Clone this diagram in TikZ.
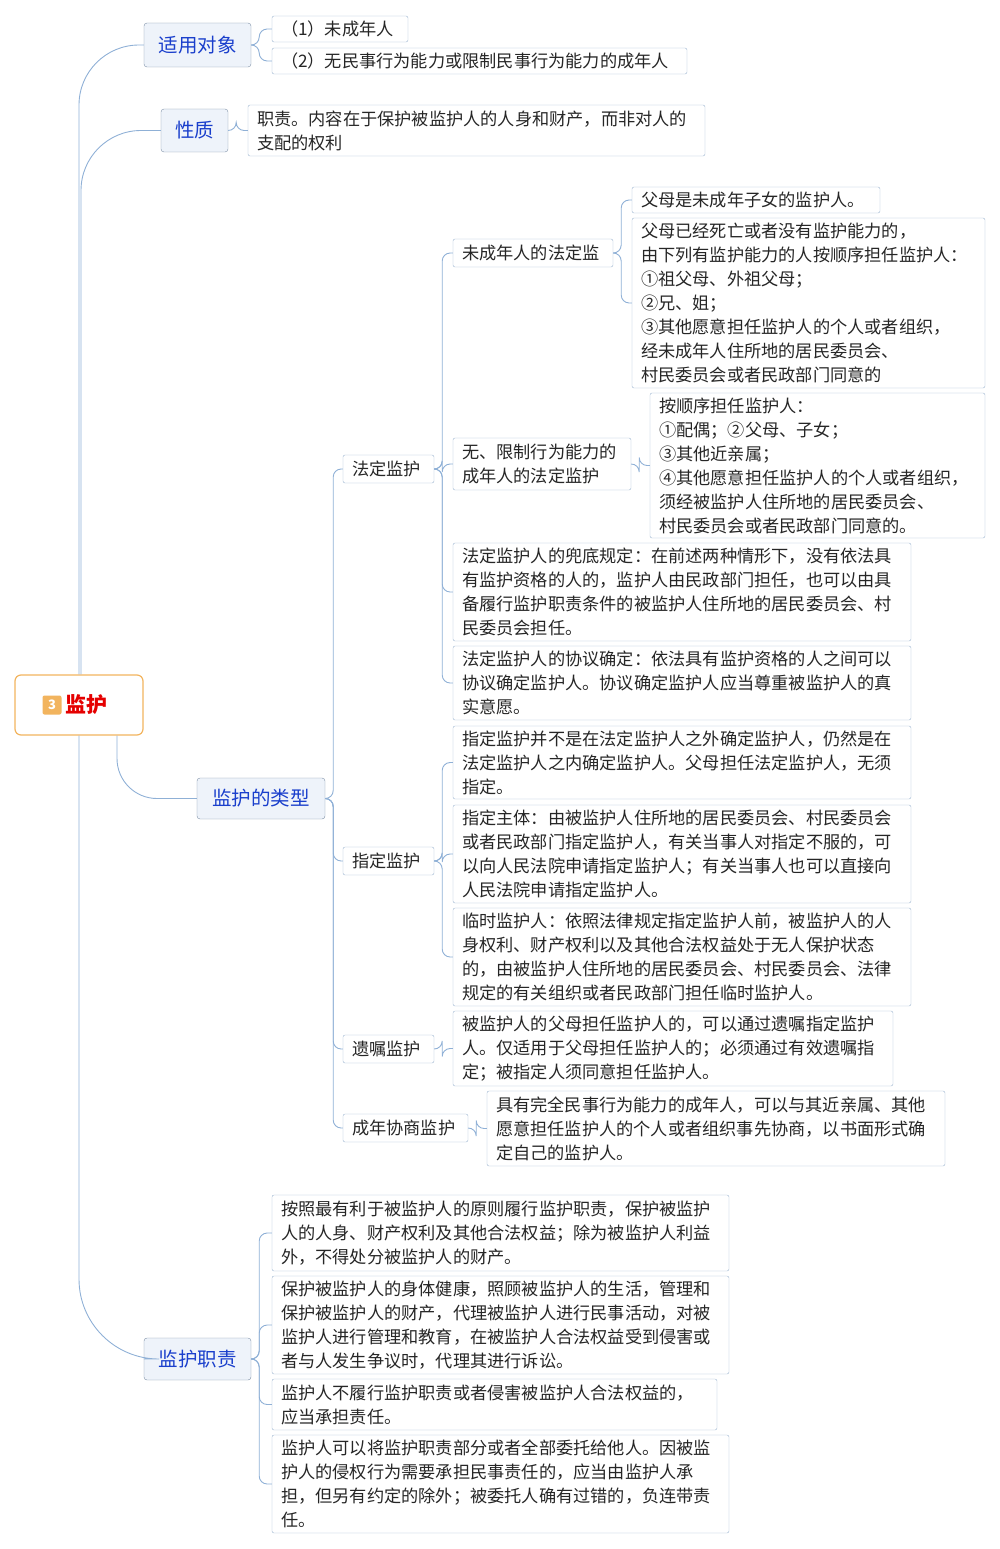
\documentclass[tikz,border=0pt]{standalone}
\usepackage{fontspec}
\setmainfont{Noto Sans CJK SC}
\definecolor{ln}{HTML}{8FB0D6}
\definecolor{bd}{HTML}{9DB4D0}
\definecolor{tb}{HTML}{1A3FCC}
\definecolor{tf}{HTML}{EEF3FA}
\definecolor{org}{HTML}{F2B45E}
\tikzset{
 leaf/.style={draw=bd,fill=white,rounded corners=2pt,align=left,inner sep=0pt,font=\fontsize{17.2}{24}\selectfont,text=black!85},
 topic/.style={draw=bd!80!black,fill=tf,rounded corners=3pt,align=center,inner sep=0pt,font=\fontsize{19.5}{24}\selectfont,text=tb},
 sub/.style={draw=bd,fill=white,rounded corners=2pt,align=left,inner sep=0pt,font=\fontsize{17.2}{24}\selectfont,text=black!85},
 conn/.style={draw=ln,line width=0.9pt,rounded corners=8pt},
}
\newcommand\mybox[7][leaf]{%
 \pgfmathsetmacro\bw{#5-#3}\pgfmathsetmacro\bh{#6-#4}%
 \pgfmathsetmacro\cx{(#3+#5)/2}\pgfmathsetmacro\cy{(#4+#6)/2}%
 \pgfmathsetmacro\tw{#5-#3-18}%
 \node[#1,minimum width=\bw pt,minimum height=\bh pt,text width=\tw pt] (#2) at (\cx,\cy) {#7};}
\begin{document}
\begin{tikzpicture}[x=1pt,y=-1pt]
\useasboundingbox (0,0) rectangle (1000,1549);
% root
\node[draw=org,line width=1.2pt,rounded corners=6pt,fill=white,minimum width=128pt,minimum height=60pt] (root) at (79,705) {};
\node[fill=org,rounded corners=2pt,text=white,font=\fontsize{13}{13}\selectfont\bfseries,inner sep=1.5pt,minimum width=19pt,minimum height=19pt] at (52,705) {3};
\node[text=red!90!black,font=\fontsize{21}{24}\selectfont\bfseries,anchor=west] at (62,705) {监护};
% topics
\mybox[topic]{t1}{144}{23}{251}{67}{\centering 适用对象}
\mybox[topic]{t2}{161}{109}{228}{152}{\centering 性质}
\mybox[topic]{t3}{197}{778}{325}{819}{\centering 监护的类型}
\mybox[topic]{t4}{144}{1338}{251}{1380}{\centering 监护职责}
% t1 children
\mybox{a1}{272}{16}{408}{42}{（1）未成年人}
\mybox{a2}{272}{48}{687}{74}{（2）无民事行为能力或限制民事行为能力的成年人}
\mybox{b1}{248}{105}{705}{156}{职责。内容在于保护被监护人的人身和财产，而非对人的\\支配的权利}
% t3 children
\mybox[sub]{c1}{343}{455}{434}{483}{法定监护}
\mybox[sub]{c2}{343}{847}{434}{875}{指定监护}
\mybox[sub]{c3}{343}{1035}{434}{1063}{遗嘱监护}
\mybox[sub]{c4}{343}{1114}{468}{1142}{成年协商监护}
\mybox[sub]{d1}{453}{239}{613}{267}{未成年人的法定监}
\mybox[sub]{d2}{453}{438}{631}{490}{无、限制行为能力的\\成年人的法定监护}
\mybox{e1}{632}{187}{880}{213}{父母是未成年子女的监护人。}
\mybox{e2}{632}{218}{985}{388}{父母已经死亡或者没有监护能力的，\\由下列有监护能力的人按顺序担任监护人：\\①祖父母、外祖父母；\\②兄、姐；\\③其他愿意担任监护人的个人或者组织，\\经未成年人住所地的居民委员会、\\村民委员会或者民政部门同意的}
\mybox{e3}{650}{393}{985}{538}{按顺序担任监护人：\\①配偶；②父母、子女；\\③其他近亲属；\\④其他愿意担任监护人的个人或者组织，\\须经被监护人住所地的居民委员会、\\村民委员会或者民政部门同意的。}
\mybox{d3}{453}{543}{911}{641}{法定监护人的兜底规定：在前述两种情形下，没有依法具\\有监护资格的人的，监护人由民政部门担任，也可以由具\\备履行监护职责条件的被监护人住所地的居民委员会、村\\民委员会担任。}
\mybox{d4}{453}{646}{911}{720}{法定监护人的协议确定：依法具有监护资格的人之间可以\\协议确定监护人。协议确定监护人应当尊重被监护人的真\\实意愿。}
\mybox{f1}{453}{726}{911}{799}{指定监护并不是在法定监护人之外确定监护人，仍然是在\\法定监护人之内确定监护人。父母担任法定监护人，无须\\指定。}
\mybox{f2}{453}{805}{911}{903}{指定主体：由被监护人住所地的居民委员会、村民委员会\\或者民政部门指定监护人，有关当事人对指定不服的，可\\以向人民法院申请指定监护人；有关当事人也可以直接向\\人民法院申请指定监护人。}
\mybox{f3}{453}{908}{911}{1006}{临时监护人：依照法律规定指定监护人前，被监护人的人\\身权利、财产权利以及其他合法权益处于无人保护状态\\的，由被监护人住所地的居民委员会、村民委员会、法律\\规定的有关组织或者民政部门担任临时监护人。}
\mybox{g1}{453}{1011}{893}{1086}{被监护人的父母担任监护人的，可以通过遗嘱指定监护\\人。仅适用于父母担任监护人的；必须通过有效遗嘱指\\定；被指定人须同意担任监护人。}
\mybox{h1}{487}{1091}{945}{1166}{具有完全民事行为能力的成年人，可以与其近亲属、其他\\愿意担任监护人的个人或者组织事先协商，以书面形式确\\定自己的监护人。}
% t4 children
\mybox{k1}{272}{1195}{729}{1271}{按照最有利于被监护人的原则履行监护职责，保护被监护\\人的人身、财产权利及其他合法权益；除为被监护人利益\\外，不得处分被监护人的财产。}
\mybox{k2}{272}{1276}{729}{1374}{保护被监护人的身体健康，照顾被监护人的生活，管理和\\保护被监护人的财产，代理被监护人进行民事活动，对被\\监护人进行管理和教育，在被监护人合法权益受到侵害或\\者与人发生争议时，代理其进行诉讼。}
\mybox{k3}{272}{1379}{717}{1430}{监护人不履行监护职责或者侵害被监护人合法权益的，\\应当承担责任。}
\mybox{k4}{272}{1435}{729}{1533}{监护人可以将监护职责部分或者全部委托给他人。因被监\\护人的侵权行为需要承担民事责任的，应当由监护人承\\担，但另有约定的除外；被委托人确有过错的，负连带责\\任。}
% connectors
\draw[conn,rounded corners=60pt] (root.north) |- (t1.west);
\draw[conn,rounded corners=60pt] ([xshift=2pt]root.north) |- (t2.west);
\draw[conn,rounded corners=40pt] ([xshift=38pt]root.south) |- (t3.west);
\draw[conn,rounded corners=80pt] (root.south) |- (t4.west);
\foreach \p/\c in {t1/a1,t1/a2,t2/b1,t3/c1,t3/c2,t3/c3,t3/c4,c1/d1,c1/d2,c1/d3,c1/d4,d1/e1,d1/e2,d2/e3,c2/f1,c2/f2,c2/f3,c3/g1,c4/h1,t4/k1,t4/k2,t4/k3,t4/k4}
  \draw[conn] (\p.east) -- ++(8,0) |- (\c.west);
\end{tikzpicture}
\end{document}
